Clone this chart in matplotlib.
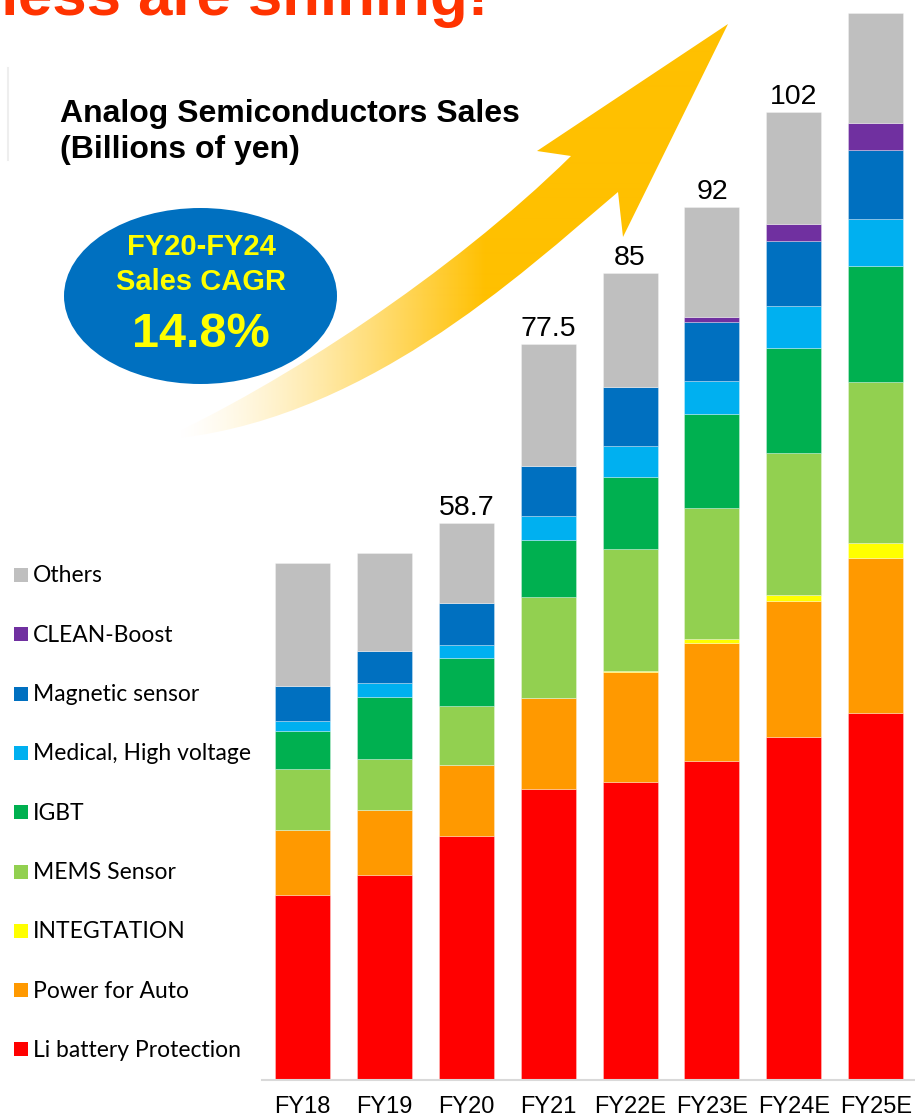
import numpy as np
import matplotlib
matplotlib.use("Agg")
import matplotlib.pyplot as plt
from matplotlib.patches import Ellipse, Rectangle, PathPatch
from matplotlib.path import Path
from matplotlib.colors import to_rgb

# ---- data (billions of yen) ----
categories = ["FY18", "FY19", "FY20", "FY21", "FY22E", "FY23E", "FY24E", "FY25E"]
li_battery = [19.4, 21.6, 25.7, 30.6, 31.4, 33.6, 36.1, 38.6]
power_auto = [6.9, 6.8, 7.5, 9.6, 11.6, 12.4, 14.4, 16.4]
integration = [0.0, 0.0, 0.0, 0.0, 0.1, 0.4, 0.6, 1.6]
mems_sensor = [6.4, 5.4, 6.2, 10.7, 12.8, 13.9, 14.9, 16.9]
igbt = [4.0, 6.5, 5.0, 6.0, 7.6, 9.9, 11.1, 12.3]
medical_hv = [1.1, 1.5, 1.4, 2.5, 3.3, 3.4, 4.4, 4.9]
magnetic = [3.7, 3.4, 4.4, 5.3, 6.2, 6.3, 6.9, 7.3]
clean_boost = [0.0, 0.0, 0.0, 0.0, 0.0, 0.5, 1.8, 2.8]
others = [13.0, 10.3, 8.5, 12.8, 12.0, 11.6, 11.8, 11.6]
labeled_years = ["FY20", "FY21", "FY22E", "FY23E", "FY24E"]

series_names = ["Li battery Protection", "Power for Auto", "INTEGTATION", "MEMS Sensor",
                "IGBT", "Medical, High voltage", "Magnetic sensor", "CLEAN-Boost", "Others"]
series_values = [li_battery, power_auto, integration, mems_sensor, igbt,
                 medical_hv, magnetic, clean_boost, others]
series_colors = ["#FF0000", "#FF9900", "#FFFF00", "#92D050", "#00B050",
                 "#00B0F0", "#0070C0", "#7030A0", "#BFBFBF"]

W, H = 915, 1119
fig = plt.figure(figsize=(W / 100, H / 100), dpi=100)
fig.patch.set_facecolor("white")

# ---- decoration layer in pixel coordinates ----
deco = fig.add_axes([0, 0, 1, 1], zorder=0)
deco.set_axis_off()

# rising arrow with a fading tail
verts = [(160, 440),
         (280, 385), (450, 275), (571, 156),
         (537, 151), (728, 24), (623, 237), (618, 192),
         (520, 275), (360, 425), (160, 440),
         (160, 440)]
codes = [Path.MOVETO,
         Path.CURVE4, Path.CURVE4, Path.CURVE4,
         Path.LINETO, Path.LINETO, Path.LINETO, Path.LINETO,
         Path.CURVE4, Path.CURVE4, Path.CURVE4,
         Path.CLOSEPOLY]
arrow = PathPatch(Path(verts, codes), facecolor="none", edgecolor="none")
deco.add_patch(arrow)
xs = np.linspace(150, 750, 600)
alpha = np.clip((xs - 175) / (485 - 175), 0, 1) ** 1.4
grad = np.zeros((1, xs.size, 4))
grad[..., :3] = to_rgb("#FFC000")
grad[..., 3] = alpha
im = deco.imshow(grad, extent=(150, 750, 460, 15), aspect="auto", zorder=2,
                 interpolation="bilinear")
im.set_clip_path(arrow)

# CAGR bubble
deco.add_patch(Ellipse((200.5, 296), 273, 176, facecolor="#0070C0", edgecolor="none", zorder=3))
bold = dict(family="Liberation Sans", weight="bold")
deco.text(201, 255, "FY20-FY24", color="#FFFF00", fontsize=21, ha="center", va="baseline", zorder=4, **bold)
deco.text(201, 290, "Sales CAGR", color="#FFFF00", fontsize=21, ha="center", va="baseline", zorder=4, **bold)
deco.text(201, 347, "14.8%", color="#FFFF00", fontsize=35, ha="center", va="baseline", zorder=4, **bold)

# headline and chart title
deco.text(488, 15, "ness are shining!", color="#FF3300", fontsize=44.5, ha="right", va="baseline", **bold)
deco.text(60, 122, "Analog Semiconductors Sales", color="black", fontsize=23, ha="left", va="baseline", **bold)
deco.text(60, 158, "(Billions of yen)", color="black", fontsize=23, ha="left", va="baseline", **bold)
deco.plot([8, 8], [68, 160], color="#EEEEEE", lw=1.5)

# legend, top row = top of stack
row_y0, row_step = 575, 59.3
for k, idx in enumerate(range(len(series_names) - 1, -1, -1)):
    cy = row_y0 + k * row_step
    deco.add_patch(Rectangle((14, cy - 7), 14, 14, facecolor=series_colors[idx], edgecolor="none"))
    deco.text(33, cy + 7.5, series_names[idx], fontsize=16.5, family="Lato",
              color="black", ha="left", va="baseline")

deco.set_xlim(0, W)
deco.set_ylim(H, 0)

# ---- stacked bar chart ----
base_px = 1079.5
px_per_unit = 9.485
ax = fig.add_axes([262 / W, (H - base_px) / H, (W - 262) / W, base_px / H], zorder=1)
ax.patch.set_alpha(0)
x = np.arange(len(categories))
bottom = np.zeros(len(categories))
for vals, col in zip(series_values, series_colors):
    v = np.array(vals)
    ax.bar(x, v, width=0.672, bottom=bottom, color=col,
           edgecolor=(1, 1, 1, 0.35), linewidth=0.6)
    bottom += v

for i, cat in enumerate(categories):
    if cat in labeled_years:
        total = round(bottom[i], 1)
        ax.annotate(f"{total:g}", (i, total), xytext=(0, 5.8), textcoords="offset points",
                    ha="center", va="baseline", fontsize=20.5, family="Liberation Sans")

ax.set_xlim(-0.4945, 7.479)
ax.set_ylim(0, base_px / px_per_unit)
ax.set_xticks(x)
ax.set_xticklabels(categories, fontsize=17, family="Liberation Sans")
ax.tick_params(axis="x", length=0, pad=12)
ax.set_yticks([])
for s in ["left", "right", "top"]:
    ax.spines[s].set_visible(False)
ax.spines["bottom"].set_color("#D9D9D9")
ax.spines["bottom"].set_linewidth(1.5)

fig.savefig("out.png", dpi=100, facecolor="white")
